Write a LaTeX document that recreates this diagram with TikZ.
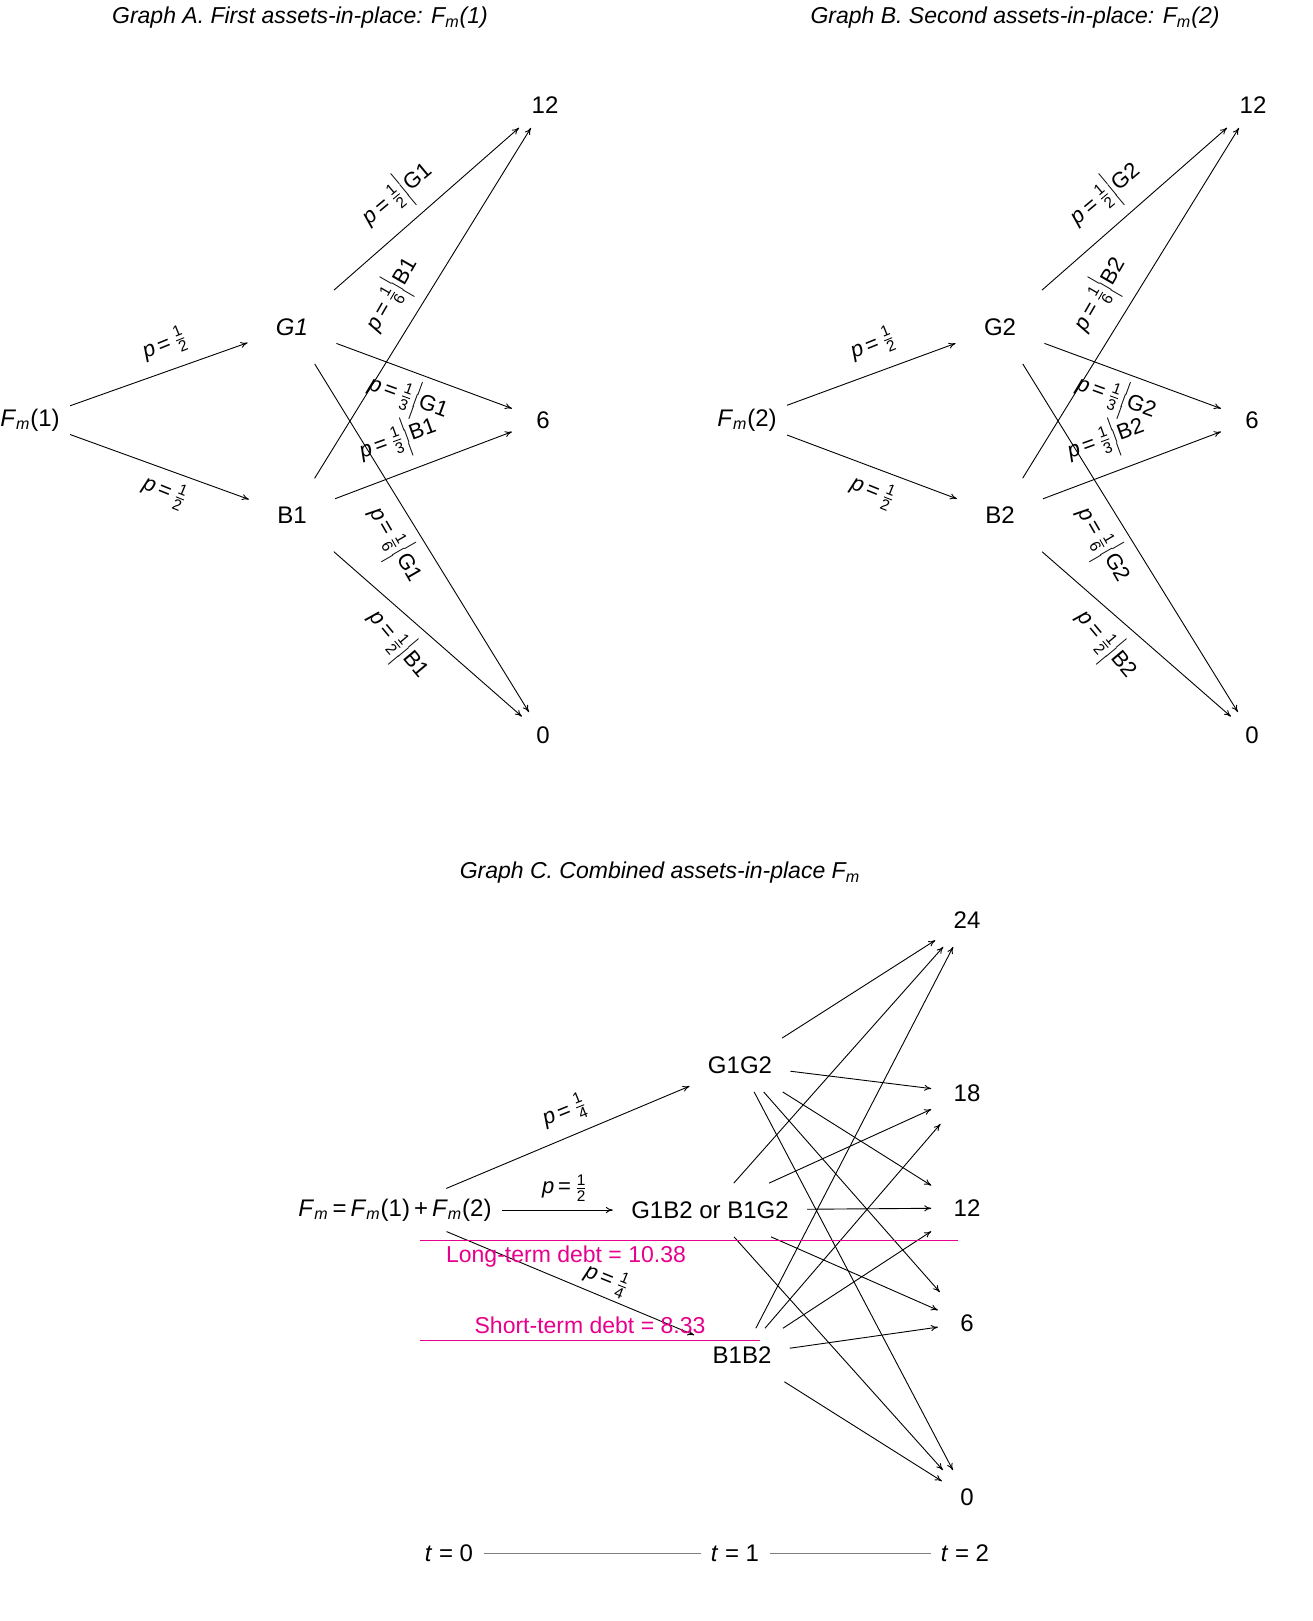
\documentclass[tikz,border=0pt]{standalone}
\usepackage{amsmath}
\usepackage{fontspec}
\setmainfont{Liberation Sans}
\usetikzlibrary{arrows.meta}
\definecolor{mag}{RGB}{230,0,140}
\newcommand\pfr[2]{$\tfrac{\text{#1}}{\text{#2}}$}
\newcommand\pcond[3]{\textit{p}\,=\,\pfr{#1}{#2}$\Big|$#3}
\newcommand\pp[2]{\textit{p}\,=\,\pfr{#1}{#2}}
\newcommand\Fm{\textit{F}\textsubscript{\textit{m}}}
\begin{document}
\begin{tikzpicture}[x=0.5pt,y=-0.5pt,
  nd/.style={inner sep=5pt,font=\fontsize{12}{14}\selectfont},
  lb/.style={font=\fontsize{11}{12}\selectfont,inner sep=1pt},
  ar/.style={-{To[length=3.5pt,width=3pt]},line width=0.45pt},
  ttl/.style={font=\fontsize{11.5}{14}\selectfont\itshape}]
\useasboundingbox (0,0) rectangle (1312,1621);
% Titles
\node[ttl] (ta) at (300,18) {Graph A. First assets-in-place: F\textsubscript{m}(1)};
\node[ttl] (tb) at (1015,18) {Graph B. Second assets-in-place: F\textsubscript{m}(2)};
\node[ttl] (tc) at (660,873) {Graph C. Combined assets-in-place F\textsubscript{m}};
% Graph A
\node[nd] (fa) at (30,420) {\Fm(1)};
\node[nd,inner sep=14pt] (ga) at (292,327) {\itshape G1};
\node[nd,inner sep=14pt] (ba) at (292,515) {B1};
\node[nd,inner sep=7pt] (a12) at (545,105) {12};
\node[nd,inner sep=12pt] (a6) at (543,420) {6};
\node[nd,inner sep=7pt] (a0) at (543,735) {0};
\draw[ar] (fa) -- (ga);
\draw[ar] (fa) -- (ba);
\draw[ar] (ga) -- (a12);
\draw[ar] (ga) -- (a6);
\draw[ar] (ga) -- (a0);
\draw[ar] (ba) -- (a12);
\draw[ar] (ba) -- (a6);
\draw[ar] (ba) -- (a0);
\node[lb,rotate=22] (la1) at (165,345) {\pp12};
\node[lb,rotate=-22] (la2) at (165,492) {\pp12};
\node[lb,rotate=40] (la3) at (398,195) {\pcond12{G1}};
\node[lb,rotate=60] (la4) at (393,295) {\pcond16{B1}};
\node[lb,rotate=-20] (la5) at (408,398) {\pcond13{G1}};
\node[lb,rotate=20] (la6) at (398,440) {\pcond13{B1}};
\node[lb,rotate=-60] (la7) at (395,545) {\pcond16{G1}};
\node[lb,rotate=-50] (la8) at (398,645) {\pcond12{B1}};
% Graph B
\node[nd] (fb) at (747,420) {\Fm(2)};
\node[nd,inner sep=14pt] (gb) at (1000,327) {G2};
\node[nd,inner sep=14pt] (bb) at (1000,515) {B2};
\node[nd,inner sep=7pt] (b12) at (1253,105) {12};
\node[nd,inner sep=12pt] (b6) at (1252,420) {6};
\node[nd,inner sep=7pt] (b0) at (1252,735) {0};
\draw[ar] (fb) -- (gb);
\draw[ar] (fb) -- (bb);
\draw[ar] (gb) -- (b12);
\draw[ar] (gb) -- (b6);
\draw[ar] (gb) -- (b0);
\draw[ar] (bb) -- (b12);
\draw[ar] (bb) -- (b6);
\draw[ar] (bb) -- (b0);
\node[lb,rotate=22] (lb1) at (873,345) {\pp12};
\node[lb,rotate=-22] (lb2) at (873,492) {\pp12};
\node[lb,rotate=40] (lb3) at (1106,195) {\pcond12{G2}};
\node[lb,rotate=60] (lb4) at (1101,295) {\pcond16{B2}};
\node[lb,rotate=-20] (lb5) at (1116,398) {\pcond13{G2}};
\node[lb,rotate=20] (lb6) at (1106,440) {\pcond13{B2}};
\node[lb,rotate=-60] (lb7) at (1103,545) {\pcond16{G2}};
\node[lb,rotate=-50] (lb8) at (1106,645) {\pcond12{B2}};
% Graph C
\node[nd] (fc) at (395,1210) {\Fm\,=\,\Fm(1)\,+\,\Fm(2)};
\node[nd,inner sep=9pt] (gg) at (740,1065) {G1G2};
\node[nd,inner sep=9pt] (gbm) at (710,1210) {G1B2 or B1G2};
\node[nd,inner sep=9pt] (bbm) at (742,1355) {B1B2};
\node[nd,inner sep=9pt] (c24) at (967,920) {24};
\node[nd,inner sep=11pt] (c18) at (967,1093) {18};
\node[nd,inner sep=11pt] (c12) at (967,1208) {12};
\node[nd,inner sep=11pt] (c6) at (967,1323) {6};
\node[nd,inner sep=9pt] (c0) at (967,1497) {0};
\draw[ar] (fc) -- (gg);
\draw[ar] (fc) -- (gbm);
\draw[ar] (fc) -- (bbm);
\foreach \m in {gg,gbm,bbm}{
  \foreach \t in {c24,c18,c12,c6,c0}{
    \draw[ar] (\m) -- (\t);
  }
}
\node[lb,rotate=22] (lc1) at (565,1112) {\pp14};
\node[lb] (lc2) at (565,1188) {\pp12};
\node[lb,rotate=-22] (lc3) at (607,1280) {\pp14};
% debt lines
\coordinate (l1a) at (420,1240); \coordinate (l1b) at (958,1240);
\coordinate (l2a) at (420,1340); \coordinate (l2b) at (760,1340);
\draw[mag,line width=0.5pt] (l1a) -- (l1b);
\draw[mag,line width=0.5pt] (l2a) -- (l2b);
\node[nd,mag,inner sep=0pt,font=\fontsize{11.5}{13}\selectfont] (lt) at (566,1257) {Long-term debt = 10.38};
\node[nd,mag,inner sep=0pt,font=\fontsize{11.5}{13}\selectfont] (st) at (590,1325) {Short-term debt = 8.33};
% time axis
\node[nd] (t0) at (449,1553) {\textit{t} = 0};
\node[nd] (t1) at (735,1553) {\textit{t} = 1};
\node[nd] (t2) at (965,1553) {\textit{t} = 2};
\draw[gray,line width=0.4pt] (t0) -- (t1);
\draw[gray,line width=0.4pt] (t1) -- (t2);
\end{tikzpicture}
\end{document}
